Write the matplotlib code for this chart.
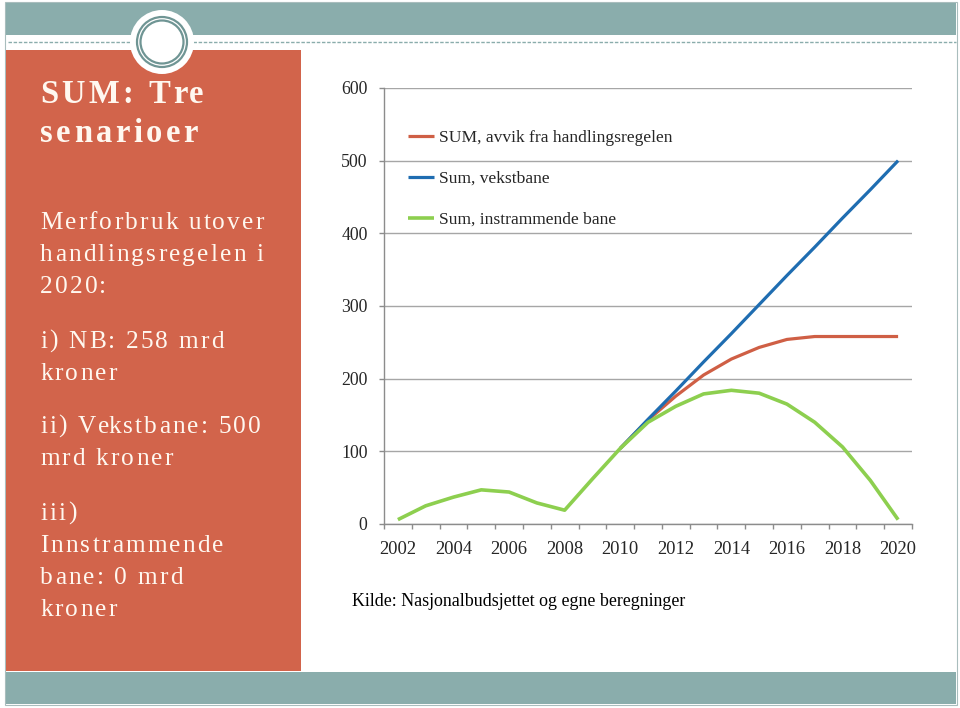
import numpy as np
import matplotlib
matplotlib.use('Agg')
import matplotlib.pyplot as plt
from matplotlib.patches import Rectangle, Circle
from matplotlib.textpath import TextToPath
from matplotlib.font_manager import FontProperties

nan = np.nan
# ---------------- data ----------------
years = list(range(2002, 2021))
year_labels = [str(y) for y in range(2002, 2021, 2)]
sum_avvik = [nan, nan, nan, nan, nan, nan, nan, nan,
             104, 143, 176, 205, 227, 243, 254, 258, 258, 258, 258]
sum_vekst = [nan, nan, nan, nan, nan, nan, nan, nan,
             104, 144, 183, 223, 262, 302, 342, 381, 421, 460, 500]
sum_instram = [6, 25, 37, 47, 44, 29, 19, 62,
               104, 140, 162, 179, 184, 180, 165, 140, 106, 60, 6]
series_names = ["SUM, avvik fra handlingsregelen",
                "Sum, vekstbane",
                "Sum, instrammende bane"]
yticks = [0, 100, 200, 300, 400, 500, 600]

title_lines = ["SUM: Tre", "senarioer"]
body_lines = ["Merforbruk utover", "handlingsregelen i", "2020:",
              "i) NB: 258 mrd", "kroner",
              "ii) Vekstbane: 500", "mrd kroner",
              "iii)", "Innstrammende", "bane: 0 mrd", "kroner"]
source_text = "Kilde: Nasjonalbudsjettet og egne beregninger"

# ---------------- style ----------------
RED = '#CF5F45'
BLUE = '#1F6DB1'
GREEN = '#8DCF4F'
PANEL = '#D2644B'
TEAL = '#8AADAC'
RING = '#6F9594'
TXT = '#FFF8F0'
SERIF = 'Liberation Serif'
DPI = 100

fig = plt.figure(figsize=(9.6, 7.08), dpi=DPI)
fig.patch.set_facecolor('white')

bg = fig.add_axes([0, 0, 1, 1], zorder=0)
bg.set_xlim(0, 960)
bg.set_ylim(708, 0)
bg.axis('off')

bg.add_patch(Rectangle((5, 2), 952, 703, facecolor='white', edgecolor='#A9BDBD', lw=0.8))
bg.add_patch(Rectangle((6, 3), 950, 32, facecolor=TEAL, edgecolor='none'))
bg.plot([8, 956], [42, 42], color=TEAL, lw=1.0, ls=(0, (2.5, 1.2)))
bg.add_patch(Rectangle((6, 50), 295, 621, facecolor=PANEL, edgecolor='none'))
bg.add_patch(Rectangle((6, 672), 950, 32, facecolor=TEAL, edgecolor='none'))
bg.add_patch(Circle((162, 42), 32, facecolor='white', edgecolor='none', zorder=3))
bg.add_patch(Circle((162, 42), 25, facecolor='none', edgecolor=RING, lw=1.6, zorder=4))
bg.add_patch(Circle((162, 42), 21.5, facecolor='none', edgecolor=RING, lw=1.6, zorder=4))

ttp = TextToPath()


def width_px(s, prop):
    w, _, _ = ttp.get_text_width_height_descent(s + '|', prop, ismath=False)
    w0, _, _ = ttp.get_text_width_height_descent('|', prop, ismath=False)
    return (w - w0) * DPI / 72.0


def spaced(x, y, s, prop, spacing, color):
    for i, ch in enumerate(s):
        if ch == ' ':
            continue
        xi = x + width_px(s[:i], prop) + i * spacing
        bg.text(xi, y, ch, fontproperties=prop, color=color,
                va='baseline', ha='left', zorder=5)


title_prop = FontProperties(family=SERIF, weight='bold', size=23.5)
body_prop = FontProperties(family=SERIF, size=18.2)

t_sp = (158 - width_px(title_lines[1], title_prop)) / (len(title_lines[1]) - 1)
b_sp = (224 - width_px(body_lines[0], body_prop)) / (len(body_lines[0]) - 1)

for s, yb in zip(title_lines, [103, 142]):
    spaced(40, yb, s, title_prop, t_sp, TXT)
body_base = [229, 261, 293, 348, 380, 433, 465, 520, 552, 584, 616]
for s, yb in zip(body_lines, body_base):
    spaced(40, yb, s, body_prop, b_sp, TXT)

bg.text(352, 601, source_text, family=SERIF, fontsize=12.9, color='black',
        va='center', ha='left')

# ---------------- chart ----------------
L, R, T, B = 384, 912, 88, 524
ax = fig.add_axes([L / 960, (708 - B) / 708, (R - L) / 960, (B - T) / 708], zorder=2)
ax.patch.set_alpha(0)
x = np.arange(len(years))
ax.plot(x, sum_avvik, color=RED, lw=2.3, label=series_names[0], solid_capstyle='butt')
ax.plot(x, sum_vekst, color=BLUE, lw=2.3, label=series_names[1], solid_capstyle='butt')
ax.plot(x, sum_instram, color=GREEN, lw=2.6, label=series_names[2], solid_capstyle='butt')

ax.set_xlim(-0.5, len(years) - 0.5)
ax.set_ylim(0, 600)
ax.set_yticks(yticks)
ax.set_yticklabels([str(v) for v in yticks])
ax.set_xticks(x[::2])
ax.set_xticklabels(year_labels)
ax.set_xticks(np.arange(-0.5, len(years), 1), minor=True)
ax.yaxis.grid(True, color='#A6A6A6', lw=1.0)
ax.set_axisbelow(True)
for sp in ['top', 'right']:
    ax.spines[sp].set_visible(False)
for sp in ['left', 'bottom']:
    ax.spines[sp].set_color('#8C8C8C')
    ax.spines[sp].set_linewidth(1.0)
ax.tick_params(axis='x', which='major', length=0, pad=12.5, labelsize=13.3, labelcolor='#262626')
ax.tick_params(axis='x', which='minor', length=3.8, width=1.0, color='#8C8C8C', direction='out')
ax.tick_params(axis='y', length=3.8, width=1.0, color='#8C8C8C', direction='out', pad=8,
               labelsize=12.8, labelcolor='#262626')
for lab in ax.get_xticklabels() + ax.get_yticklabels():
    lab.set_family(SERIF)

leg = ax.legend(loc='upper left', bbox_to_anchor=(408 / 960, 1 - 129.5 / 708),
                bbox_transform=fig.transFigure, frameon=False,
                prop=FontProperties(family=SERIF, size=12.6),
                handlelength=1.5, handletextpad=0.25, labelspacing=1.42,
                borderpad=0, borderaxespad=0)
for t in leg.get_texts():
    t.set_color('#262626')

fig.savefig('out.png', dpi=DPI)
